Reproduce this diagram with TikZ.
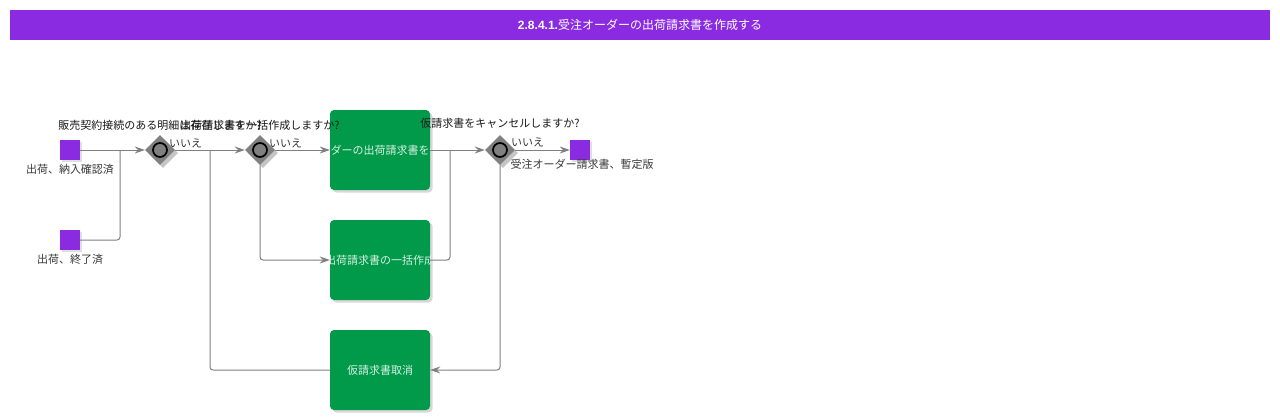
\documentclass[tikz,border=0pt]{standalone}
\usepackage{fontspec}
\setmainfont{Liberation Sans}
\newfontfamily\jp{Noto Sans CJK JP}
\usetikzlibrary{shapes.geometric,shadows,arrows.meta}
\definecolor{bpurple}{HTML}{8A2BE2}
\definecolor{tgreen}{HTML}{009A4A}
\definecolor{lgray}{HTML}{808080}
\tikzset{
  startev/.style={rectangle,fill=bpurple,minimum size=20pt,inner sep=0pt,
    drop shadow={shadow xshift=2pt,shadow yshift=-2pt,opacity=0.25}},
  gw/.style={diamond,fill=lgray,minimum size=30pt,inner sep=0pt,
    drop shadow={shadow xshift=3pt,shadow yshift=-3pt,opacity=0.45}},
  gwring/.style={circle,draw=black,line width=1.7pt,fill=lgray,minimum size=14pt,inner sep=0pt},
  taskbox/.style={rectangle,rounded corners=4pt,fill=tgreen,minimum width=100pt,minimum height=80pt,inner sep=0pt,
    drop shadow={shadow xshift=2.5pt,shadow yshift=-2.5pt,opacity=0.3}},
  tasktxt/.style={text=white!85!tgreen,font=\jp\fontsize{11}{13}\selectfont,inner sep=0pt},
  lbl/.style={font=\jp\fontsize{11}{13}\selectfont,text=black!78,inner sep=0pt},
  qlbl/.style={font=\jp\fontsize{11}{13}\selectfont,text=black!90,inner sep=0pt},
  flow/.style={draw=lgray,line width=1pt,rounded corners=3pt,-{Stealth[length=10pt,width=7pt]}},
  flown/.style={draw=lgray,line width=1pt,rounded corners=3pt},
}
\begin{document}
\begin{tikzpicture}[x=1pt,y=-1pt]
\useasboundingbox (0,0) rectangle (1280,420);
\fill[white] (0,0) rectangle (1280,420);
% title
\node[fill=bpurple,minimum width=1260pt,minimum height=30pt,inner sep=0pt] (title) at (640,25) {};
\node[text=white,inner sep=0pt] (titletxt) at (640,25) {\fontsize{12}{14}\selectfont\textbf{2.8.4.1.}\jp 受注オーダーの出荷請求書を作成する};
% start events
\node[startev] (s1) at (70,150) {};
\node[lbl,anchor=north] (s1l) at (70,164) {出荷、納入確認済};
\node[startev] (s2) at (70,240) {};
\node[lbl,anchor=north] (s2l) at (70,254) {出荷、終了済};
% gateways
\node[gw] (g1) at (160,150) {};
\node[gwring] (g1r) at (160,150) {};
\node[gw] (g2) at (260,150) {};
\node[gwring] (g2r) at (260,150) {};
\node[gw] (g3) at (500,150) {};
\node[gwring] (g3r) at (500,150) {};
% tasks
\node[taskbox] (t1) at (380,150) {};
\node[taskbox] (t2) at (380,260) {};
\node[taskbox] (t3) at (380,370) {};
\begin{scope}
\clip (330,110) rectangle (430,190);
\node[tasktxt] (t1t) at (380,150) {受注オーダーの出荷請求書を作成する};
\end{scope}
\begin{scope}
\clip (330,220) rectangle (430,300);
\node[tasktxt] (t2t) at (380,260) {出荷請求書の一括作成};
\end{scope}
\node[tasktxt] (t3t) at (380,370) {仮請求書取消};
% gateway questions
\node[qlbl] (g1q) at (160,125) {販売契約接続のある明細は存在しますか?};
\node[qlbl] (g2q) at (260,125) {出荷請求書を一括作成しますか?};
\node[qlbl] (g3q) at (500,123) {仮請求書をキャンセルしますか?};
% end event
\node[startev] (e1) at (580,150) {};
\node[lbl,anchor=north] (e1l) at (582,159) {受注オーダー請求書、暫定版};
% coordinates
\coordinate (j1) at (120,150);
\coordinate (j2) at (210,150);
\coordinate (j3) at (450,150);
% flows
\draw[flow] (s1.east) -- (g1.west);
\draw[flown] (s2.east) -- (120,240) -- (j1);
\draw[flow] (g1.east) -- (g2.west);
\draw[flown] (t3.west) -- (210,370) -- (j2);
\draw[flow] (g2.east) -- (t1.west);
\draw[flow] (g2.south) -- (260,260) -- (t2.west);
\draw[flow] (t1.east) -- (g3.west);
\draw[flown] (t2.east) -- (450,260) -- (j3);
\draw[flow] (g3.east) -- (e1.west);
\draw[flow] (g3.south) -- (500,370) -- (t3.east);
% labels
\node[lbl,anchor=west] (n1) at (169,143) {いいえ};
\node[lbl,anchor=west] (n2) at (269,143) {いいえ};
\node[lbl,anchor=west] (n3) at (511,142) {いいえ};
\end{tikzpicture}
\end{document}
